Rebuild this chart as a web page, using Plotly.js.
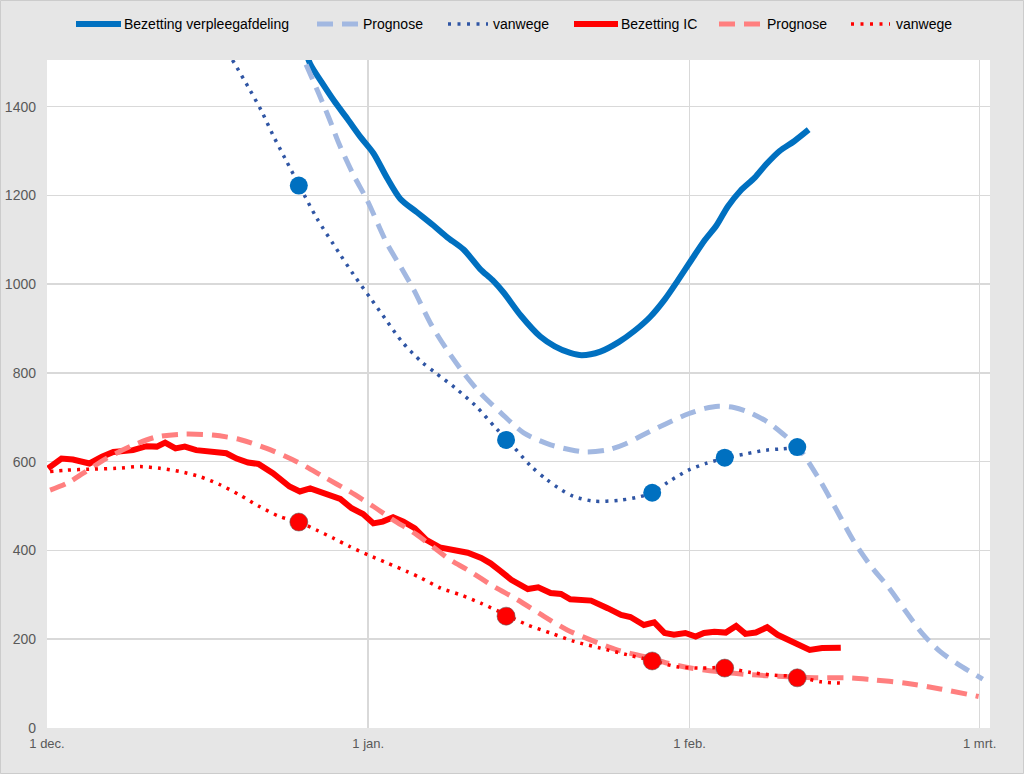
<!DOCTYPE html>
<html>
<head>
<meta charset="utf-8">
<script src="https://cdn.plot.ly/plotly-3.0.1.min.js"></script>
<style>
  html, body { margin: 0; padding: 0; background: #e6e6e6; }
  #chart { width: 1024px; height: 774px; }
</style>
</head>
<body>
<div id="chart"></div>
<script>
// ---- Data (day offsets from 1 dec. 2020) ----
const startDate = '2020-12-01';
const tickDates = ['2020-12-01', '2021-01-01', '2021-02-01', '2021-03-01'];
const tickLabels = ['1 dec.', '1 jan.', '1 feb.', '1 mrt.'];
const yTicks = [0, 200, 400, 600, 800, 1000, 1200, 1400];

const seriesNames = ['Bezetting verpleegafdeling', 'Prognose', 'vanwege', 'Bezetting IC', 'Prognose', 'vanwege'];

// Bezetting verpleegafdeling
const vplDays = [24.9, 25.4, 26.5, 27.7, 29.0, 30.3, 31.5, 32.8, 34.1, 35.7, 37.3, 38.6, 40.2, 41.8, 43.0, 44.1, 45.7, 47.6, 49.0, 50.5, 51.6, 53.4, 55.2, 56.7, 58.2, 59.6, 60.9, 62.2, 63.5, 64.6, 65.7, 66.9, 68.3, 69.4, 70.7, 72.1, 73.5];
const vplVals = [1530, 1496, 1455, 1413, 1372, 1330, 1295, 1240, 1192, 1162, 1132, 1106, 1078, 1034, 1009, 980, 930, 882, 860, 845, 840, 848, 870, 895, 926, 965, 1009, 1055, 1100, 1132, 1175, 1210, 1240, 1270, 1300, 1322, 1348];

// Prognose verpleegafdeling
const vplProgDays = [25.0, 26.1, 27.2, 28.2, 29.6, 30.9, 32.8, 34.1, 35.4, 37.0, 38.6, 40.2, 41.8, 43.8, 46.0, 48.6, 50.5, 52.0, 54.2, 55.8, 57.5, 59.7, 61.9, 63.5, 64.8, 66.3, 67.7, 69.5, 71.0, 72.5, 74.4, 76.1, 77.8, 79.5, 81.2, 82.9, 84.5, 86.2, 87.9, 90.3];
const vplProgVals = [1495, 1436, 1375, 1315, 1245, 1189, 1092, 1040, 987, 912, 852, 800, 755, 710, 665, 638, 627, 622, 627, 640, 660, 685, 708, 720, 725, 722, 712, 690, 663, 632, 565, 495, 423, 365, 317, 262, 212, 172, 144, 110];

// vanwege (verpleegafdeling)
const vplVanDays = [17.9, 19.4, 20.7, 21.8, 23.0, 24.4, 26.0, 28.2, 29.6, 31.2, 32.7, 34.3, 36.1, 37.5, 39.4, 41.4, 43.3, 44.4, 46.7, 48.2, 49.6, 50.8, 52.8, 55.2, 56.8, 58.4, 60.0, 61.9, 63.6, 65.4, 67.5, 69.4, 71.0, 72.4];
const vplVanVals = [1505, 1445, 1390, 1336, 1282, 1220, 1150, 1070, 1021, 969, 920, 869, 826, 800, 766, 725, 676, 650, 590, 560, 537, 522, 511, 513, 519, 530, 555, 581, 596, 608, 618, 626, 629, 632];

// Marker points on the "vanwege" lines
const markDays = [24.3, 44.3, 58.4, 65.4, 72.4];
const vplMarkVals = [1222, 649, 530, 609, 633];
const icMarkVals = [464, 252, 151, 135, 113];

// Bezetting IC
const icDays = [0.1, 1.4, 2.5, 4.1, 5.3, 6.4, 8.3, 9.6, 10.6, 11.4, 12.4, 13.3, 14.4, 16.7, 17.3, 18.3, 19.4, 20.4, 21.8, 23.4, 24.4, 25.4, 26.7, 28.3, 29.4, 30.5, 31.5, 32.4, 33.4, 34.4, 35.5, 36.6, 37.9, 39.6, 40.6, 41.9, 42.8, 43.8, 44.8, 46.4, 47.4, 48.6, 49.6, 50.5, 52.5, 54.1, 55.4, 56.3, 57.6, 58.6, 59.6, 60.5, 61.6, 62.6, 63.4, 64.4, 65.5, 66.5, 67.4, 68.4, 69.5, 70.5, 71.5, 72.4, 73.6, 74.8, 76.6];
const icVals = [585, 607, 605, 596, 611, 622, 626, 635, 634, 643, 630, 634, 626, 622, 619, 607, 598, 595, 574, 544, 533, 540, 529, 516, 495, 482, 461, 465, 475, 465, 450, 424, 407, 398, 395, 383, 371, 353, 334, 313, 317, 304, 302, 290, 287, 270, 255, 250, 232, 238, 214, 210, 214, 206, 214, 217, 215, 230, 212, 215, 227, 210, 200, 191, 176, 180, 181];

// Prognose IC
const icProgDays = [0.3, 1.9, 3.5, 5.7, 8.3, 10.6, 13.1, 16.0, 18.6, 21.2, 24.1, 26.7, 29.2, 31.5, 33.4, 35.7, 37.8, 38.9, 40.6, 43.1, 45.4, 48.0, 50.2, 52.5, 55.0, 57.6, 59.9, 62.1, 64.7, 67.9, 71.1, 74.4, 77.3, 79.5, 82.9, 86.2, 89.9];
const icProgVals = [536, 551, 574, 607, 637, 656, 662, 660, 650, 630, 600, 566, 533, 499, 469, 435, 398, 379, 356, 319, 289, 251, 221, 198, 176, 161, 146, 135, 127, 120, 116, 113, 113, 109, 101, 88, 71];

// vanwege (IC)
const icVanDays = [0.3, 1.9, 4.1, 6.7, 9.0, 10.9, 12.8, 14.8, 16.7, 18.6, 20.5, 22.5, 24.3, 26.0, 27.6, 29.2, 31.0, 32.8, 34.7, 36.1, 38.0, 39.9, 41.9, 44.3, 46.4, 48.6, 50.9, 53.4, 56.0, 58.4, 60.8, 63.1, 65.4, 67.9, 70.2, 72.4, 74.7, 76.9];
const icVanVals = [578, 581, 583, 585, 589, 585, 578, 566, 548, 525, 499, 476, 464, 446, 428, 409, 390, 372, 353, 338, 315, 300, 281, 255, 232, 214, 195, 180, 165, 152, 138, 135, 136, 125, 119, 116, 104, 101];

// ---- Helpers ----
const startMs = Date.parse(startDate + 'T00:00:00Z');
function toDate(d) {
  return new Date(startMs + d * 86400000).toISOString().slice(0, 19).replace('T', ' ');
}
const toDates = arr => arr.map(toDate);

const FONT = '"Liberation Sans", Arial, sans-serif';

const cBlue = '#0070C0';
const cBlueLight = '#A2B8E1';
const cBlueDark = '#2F55A4';
const cRed = '#FF0000';
const cRedLight = '#FF7F7F';

// Styles for the six series (shared by plot and legend)
const styles = [
  { color: cBlue, width: 6, dash: 'solid', shape: 'spline' },
  { color: cBlueLight, width: 5, dash: '16px,9px', shape: 'spline' },
  { color: cBlueDark, width: 3.5, dash: '3px,6px', shape: 'spline' },
  { color: cRed, width: 6, dash: 'solid', shape: 'linear' },
  { color: cRedLight, width: 5, dash: '16px,9px', shape: 'spline' },
  { color: cRed, width: 3.5, dash: '3px,6px', shape: 'spline' }
];
const seriesX = [vplDays, vplProgDays, vplVanDays, icDays, icProgDays, icVanDays];
const seriesY = [vplVals, vplProgVals, vplVanVals, icVals, icProgVals, icVanVals];

const traces = seriesX.map((xs, i) => ({
  x: toDates(xs), y: seriesY[i], name: seriesNames[i], mode: 'lines',
  showlegend: false, hoverinfo: 'skip',
  line: { color: styles[i].color, width: styles[i].width, dash: styles[i].dash,
          shape: styles[i].shape, smoothing: 0.8 }
}));
traces.push(
  { x: toDates(markDays), y: vplMarkVals, mode: 'markers', showlegend: false, hoverinfo: 'skip',
    marker: { color: cBlue, size: 18, line: { width: 0 } } },
  { x: toDates(markDays), y: icMarkVals, mode: 'markers', showlegend: false, hoverinfo: 'skip',
    marker: { color: cRed, size: 18, line: { width: 0.8, color: 'rgba(90,90,90,0.7)' } } }
);

// ---- Legend drawn above the plot (pixel layout of the reference) ----
const M = { l: 47, r: 34, t: 60, b: 46 };
const W = 1024, H = 774;
const plotW = W - M.l - M.r, plotH = H - M.t - M.b;
const px = x => (x - M.l) / plotW;
const py = y => (H - M.b - y) / plotH;
const legendY = 24;
const legendSym = [[76, 121], [317, 358], [448, 488], [574, 618], [719, 760], [851, 890]];
const legendText = [122, 361, 491, 619, 765, 894];

const shapes = [];
const annotations = [];
legendSym.forEach((s, i) => {
  shapes.push({
    type: 'line', xref: 'paper', yref: 'paper',
    x0: px(s[0]), x1: px(s[1]), y0: py(legendY), y1: py(legendY),
    line: { color: styles[i].color, width: styles[i].width, dash: styles[i].dash === '3px,6px' ? '3px,6.5px' : styles[i].dash }
  });
  annotations.push({
    xref: 'paper', yref: 'paper', x: px(legendText[i]), y: py(legendY),
    xanchor: 'left', yanchor: 'middle', showarrow: false,
    text: seriesNames[i], font: { family: FONT, size: 14, color: '#000000' }
  });
});
// thin outer border of the picture
shapes.push({
  type: 'rect', xref: 'paper', yref: 'paper', layer: 'above',
  x0: px(0.5), x1: px(W - 0.5), y0: py(0.5), y1: py(H - 0.5),
  line: { color: '#cccccc', width: 1 }
});

const layout = {
  width: W,
  height: H,
  paper_bgcolor: '#e6e6e6',
  plot_bgcolor: '#ffffff',
  margin: { l: M.l, r: M.r, t: M.t, b: M.b, pad: 0 },
  font: { family: FONT, color: '#595959', size: 13 },
  showlegend: false,
  shapes: shapes,
  annotations: annotations,
  xaxis: {
    type: 'date',
    range: [toDate(0), toDate(91)],
    tickmode: 'array',
    tickvals: tickDates,
    ticktext: tickLabels,
    showgrid: true,
    gridcolor: '#d9d9d9',
    gridwidth: 1.5,
    zeroline: false,
    showline: false,
    ticks: '',
    ticklabelstandoff: 6,
    tickfont: { family: FONT, size: 13, color: '#595959' },
    fixedrange: true
  },
  yaxis: {
    range: [0, 1505],
    tickmode: 'array',
    tickvals: yTicks,
    ticktext: yTicks.map(String),
    showgrid: true,
    gridcolor: '#d9d9d9',
    gridwidth: 1.5,
    zeroline: false,
    showline: false,
    ticks: '',
    ticklabelstandoff: 10,
    tickfont: { family: FONT, size: 14, color: '#595959' },
    fixedrange: true
  }
};

Plotly.newPlot('chart', traces, layout, { displayModeBar: false, staticPlot: true });
</script>
</body>
</html>
